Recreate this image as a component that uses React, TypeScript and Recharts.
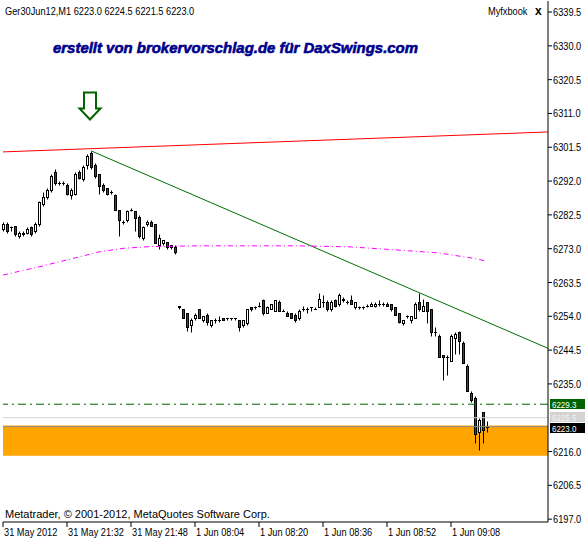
import React from "react";
import {
  Bar,
  ComposedChart,
  Line,
  ReferenceArea,
  ReferenceDot,
  ReferenceLine,
  XAxis,
  YAxis,
} from "recharts";

// Ger30Jun12, M1 candles, 31 May 21:16 .. 1 Jun 09:17
const opens = [
  6278.5, 6280.0, 6279.0, 6279.5, 6276.5, 6277.0, 6277.5, 6279.0, 6278.0, 6280.0,
  6285.5, 6287.5, 6289.5, 6294.5, 6291.5, 6291.5, 6291.0, 6288.0, 6288.5, 6294.5,
  6292.5, 6296.5, 6300.0, 6296.5, 6294.0, 6291.0, 6290.0, 6289.0, 6288.0, 6284.0,
  6280.5, 6281.0, 6284.0, 6283.5, 6282.0, 6276.0, 6280.0, 6280.5, 6280.0, 6274.0,
  6274.5, 6275.0, 6274.0, 6273.5, 6257.0, 6256.0, 6255.0, 6251.5, 6253.5, 6256.0,
  6253.0, 6254.5, 6251.5, 6253.0, 6253.0, 6253.5, 6253.5, 6253.5, 6253.5, 6253.0,
  6251.5, 6252.0, 6256.5, 6256.5, 6257.0, 6258.5, 6255.0, 6256.0, 6255.5, 6258.0,
  6255.5, 6255.0, 6255.0, 6254.5, 6253.5, 6256.0, 6256.0, 6256.5, 6256.0, 6256.5,
  6258.0, 6258.0, 6256.0, 6258.5, 6257.5, 6259.0, 6258.0, 6258.5, 6256.5, 6256.5,
  6256.5, 6257.0, 6257.0, 6257.0, 6257.5, 6257.5, 6257.5, 6257.5, 6256.5, 6255.0,
  6252.0, 6254.0, 6253.0, 6253.5, 6258.0, 6255.5, 6258.0, 6256.0, 6249.5, 6248.5,
  6243.0, 6242.5, 6241.5, 6248.0, 6249.5, 6246.5, 6240.0, 6232.5, 6231.0, 6221.5,
  6227.0, 6223.0,
];
const highs = [
  6280.5, 6280.5, 6279.5, 6279.5, 6278.0, 6278.0, 6279.0, 6279.5, 6280.5, 6286.5,
  6289.0, 6290.0, 6294.0, 6295.5, 6292.0, 6292.0, 6291.5, 6290.0, 6294.5, 6295.0,
  6296.5, 6299.5, 6300.5, 6297.0, 6294.0, 6291.5, 6290.0, 6289.5, 6288.5, 6284.0,
  6281.0, 6284.0, 6284.5, 6283.5, 6282.5, 6279.5, 6281.0, 6281.0, 6280.0, 6277.0,
  6275.5, 6275.0, 6274.0, 6274.0, 6257.0, 6256.0, 6255.0, 6253.5, 6255.0, 6256.0,
  6254.0, 6255.0, 6253.0, 6253.5, 6254.0, 6253.5, 6253.5, 6253.5, 6253.5, 6253.0,
  6253.0, 6256.0, 6256.5, 6257.0, 6258.0, 6259.0, 6257.0, 6257.5, 6258.5, 6258.5,
  6256.0, 6255.5, 6255.0, 6255.0, 6256.0, 6257.0, 6256.5, 6256.5, 6256.5, 6260.5,
  6260.0, 6258.5, 6258.5, 6259.0, 6260.5, 6259.5, 6258.5, 6260.0, 6258.0, 6257.0,
  6257.0, 6257.5, 6258.0, 6258.0, 6258.5, 6258.0, 6258.0, 6257.5, 6256.5, 6255.0,
  6253.0, 6254.5, 6254.0, 6258.0, 6260.5, 6259.0, 6258.0, 6256.0, 6251.0, 6249.0,
  6243.0, 6243.0, 6249.0, 6249.5, 6250.0, 6247.0, 6240.5, 6233.0, 6231.5, 6225.5,
  6227.0, 6224.5,
];
const lows = [
  6278.0, 6277.5, 6278.0, 6276.5, 6276.0, 6276.5, 6277.0, 6276.5, 6277.5, 6279.5,
  6285.0, 6287.0, 6289.0, 6291.0, 6291.0, 6291.0, 6288.0, 6287.0, 6288.0, 6292.5,
  6292.0, 6295.5, 6295.5, 6293.0, 6288.5, 6289.0, 6288.0, 6288.5, 6284.0, 6276.5,
  6280.0, 6280.5, 6283.5, 6278.0, 6276.0, 6275.5, 6279.5, 6279.5, 6274.5, 6273.0,
  6274.0, 6273.0, 6273.0, 6271.5, 6256.0, 6253.5, 6250.0, 6249.5, 6253.0, 6253.5,
  6252.5, 6251.5, 6251.0, 6252.0, 6252.5, 6253.0, 6253.0, 6253.0, 6253.0, 6250.0,
  6251.0, 6251.5, 6255.5, 6256.0, 6256.5, 6254.5, 6255.0, 6256.0, 6255.5, 6255.5,
  6255.5, 6254.0, 6253.5, 6252.5, 6253.0, 6255.5, 6255.0, 6255.5, 6256.0, 6256.5,
  6256.5, 6255.5, 6255.5, 6256.5, 6257.0, 6258.0, 6257.5, 6257.5, 6256.0, 6256.0,
  6256.0, 6256.5, 6257.0, 6256.5, 6257.0, 6257.0, 6257.0, 6255.5, 6254.5, 6252.0,
  6251.5, 6253.5, 6252.0, 6253.5, 6255.5, 6255.5, 6252.0, 6248.5, 6248.5, 6242.5,
  6236.0, 6237.5, 6241.5, 6243.5, 6243.5, 6241.0, 6233.0, 6230.0, 6218.5, 6216.5,
  6218.5, 6221.5,
];
const closes = [
  6280.0, 6278.0, 6279.0, 6277.0, 6277.5, 6277.5, 6278.5, 6277.0, 6280.0, 6286.0,
  6287.5, 6289.5, 6293.5, 6291.5, 6291.5, 6291.5, 6288.5, 6289.5, 6294.0, 6293.0,
  6296.0, 6299.0, 6296.0, 6293.5, 6290.5, 6289.5, 6288.5, 6289.0, 6284.0, 6281.0,
  6280.5, 6283.5, 6284.0, 6281.5, 6276.5, 6279.0, 6280.5, 6279.5, 6274.5, 6276.0,
  6275.5, 6273.5, 6273.5, 6272.0, 6256.5, 6253.5, 6251.0, 6253.0, 6254.5, 6253.5,
  6254.0, 6252.5, 6253.0, 6253.0, 6253.0, 6253.0, 6253.5, 6253.5, 6253.5, 6251.0,
  6253.0, 6256.0, 6256.0, 6256.5, 6257.0, 6255.0, 6256.5, 6257.5, 6258.5, 6255.5,
  6255.5, 6254.0, 6253.5, 6253.0, 6255.5, 6256.0, 6256.0, 6256.5, 6256.0, 6259.0,
  6258.0, 6256.0, 6258.0, 6257.0, 6260.0, 6258.5, 6258.0, 6257.5, 6258.0, 6256.5,
  6256.5, 6257.0, 6257.5, 6257.5, 6257.5, 6257.5, 6257.0, 6256.0, 6254.5, 6252.5,
  6253.0, 6254.0, 6254.0, 6257.5, 6256.0, 6257.0, 6255.5, 6249.5, 6249.5, 6242.5,
  6242.5, 6242.5, 6248.5, 6249.0, 6247.0, 6241.0, 6233.0, 6230.5, 6221.0, 6225.0,
  6222.0, 6223.0,
];

// moving average (dash-dot magenta), read at a few bars
const maBars = [0, 9, 18, 24, 30, 37, 49, 74, 87, 99, 109, 117, 121];
const maValues = [6265.6, 6267.9, 6270.4, 6272.1, 6273.1, 6273.6, 6273.8, 6273.8, 6273.5, 6272.6, 6271.8, 6270.4, 6269.5];

// drawn objects
const upperLine = [
  { x: 0, y: 6300.2 },
  { x: 136.25, y: 6305.8 },
];
const downTrend = [
  { x: 22, y: 6300.5 },
  { x: 136.25, y: 6245.0 },
];
const levelGreen = 6229.3;
const levelGray = 6225.5;
const bidPrice = 6223.0;
const zoneLow = 6214.8;
const zoneHigh = 6223.3;
const arrowBar = 22;
const arrowPrice = 6313.1;

const priceTicks = [
  6197.0, 6206.5, 6216.0, 6235.0, 6244.5, 6254.0, 6263.5, 6273.0, 6282.5, 6292.0,
  6301.5, 6311.0, 6320.5, 6330.0, 6339.5,
];
const timeTicks = [0, 16, 32, 48, 64, 80, 96, 112];
const timeLabels = [
  "31 May 2012",
  "31 May 21:32",
  "31 May 21:48",
  "1 Jun 08:04",
  "1 Jun 08:20",
  "1 Jun 08:36",
  "1 Jun 08:52",
  "1 Jun 09:08",
];

const SANS = "'Liberation Sans', Arial, sans-serif";
const SQUEEZE = 0.84; // terminal font is narrower than Arial

const candles = opens.map((o, i) => ({
  i,
  o,
  h: highs[i],
  l: lows[i],
  c: closes[i],
  range: [lows[i], highs[i]],
}));

const maData = maBars.map((i, k) => ({ i, ma: maValues[k] }));

function NarrowText({ x, y, size = 11, fill = "#000", dy = 0, children }: any) {
  return (
    <text
      transform={`translate(${x},${y}) scale(${SQUEEZE},1)`}
      x={0}
      y={0}
      dy={dy}
      fontSize={size}
      fontFamily={SANS}
      fill={fill}
      textAnchor="start"
    >
      {children}
    </text>
  );
}

function Candle(props: any) {
  const { x, y, width, height, payload } = props;
  if (!payload) return null;
  const { o, h, l, c } = payload;
  const top = Math.min(y, y + height);
  const bottom = Math.max(y, y + height);
  const toY = (v: number) => top + ((h - v) / (h - l)) * (bottom - top);
  const cx = Math.round(x + width / 2) + 0.5;
  const yh = Math.round(top) + 0.5;
  const yl = Math.round(bottom) + 0.5;
  const bTop = Math.round(toY(Math.max(o, c))) + 0.5;
  const bBot = Math.round(toY(Math.min(o, c))) + 0.5;
  const bull = c >= o;
  return (
    <g>
      <line x1={cx} x2={cx} y1={yh} y2={yl} stroke="#000" strokeWidth={1} />
      {bBot - bTop < 1 ? (
        <line x1={cx - 1.5} x2={cx + 1.5} y1={bTop} y2={bTop} stroke="#000" strokeWidth={1} />
      ) : (
        <rect
          x={cx - 1}
          y={bTop}
          width={2}
          height={bBot - bTop}
          fill={bull ? "#ffffff" : "#e00000"}
          stroke="#000"
          strokeWidth={1}
        />
      )}
    </g>
  );
}

function DownArrow(props: any) {
  const { cx, cy } = props;
  const ax = cx - 1;
  const d = `M${ax - 6} ${cy - 13.5} L${ax + 6} ${cy - 13.5} L${ax + 6} ${cy + 2.5} L${ax + 10.5} ${cy + 2.5} L${ax} ${cy + 13.5} L${ax - 10.5} ${cy + 2.5} L${ax - 6} ${cy + 2.5} Z`;
  return <path d={d} fill="#ffffff" stroke="#006400" strokeWidth={2} />;
}

function TimeTick(props: any) {
  const { x, y, payload } = props;
  const k = timeTicks.indexOf(payload.value);
  return (
    <NarrowText x={x + 1} y={y} dy={7.5}>
      {k >= 0 ? timeLabels[k] : ""}
    </NarrowText>
  );
}

function PriceTick(props: any) {
  const { x, y, payload } = props;
  return (
    <NarrowText x={x} y={y} dy={4}>
      {Number(payload.value).toFixed(1)}
    </NarrowText>
  );
}

// coloured price box on the right axis; shift nudges the box so stacked tags don't collide
function priceTag(value: number, bg: string, fg: string, shift = 0) {
  return (props: any) => {
    const vb = props.viewBox || {};
    const ly = Math.round(vb.y ?? 0) + shift;
    const left = (vb.x ?? 0) + (vb.width ?? 0) + 2;
    return (
      <g>
        <rect x={left} y={ly - 5} width={35} height={10} fill={bg} />
        <NarrowText x={left + 2} y={ly} dy={3.5} size={9.5} fill={fg}>
          {value.toFixed(1)}
        </NarrowText>
      </g>
    );
  };
}

export default function App() {
  return (
    <div style={{ position: "absolute", left: 0, top: 0, width: 586, height: 539, background: "#fff" }}>
      <ComposedChart
        width={586}
        height={539}
        data={candles}
        margin={{ top: 1, right: 0, bottom: 0, left: 3 }}
      >
        <XAxis
          xAxisId="top"
          orientation="top"
          type="number"
          domain={[0, 1]}
          height={0}
          tick={false}
          tickLine={false}
          axisLine={{ stroke: "#000" }}
        />
        <YAxis
          yAxisId="left"
          orientation="left"
          width={0}
          tick={false}
          tickLine={false}
          axisLine={{ stroke: "#000" }}
        />
        <XAxis
          dataKey="i"
          type="number"
          domain={[0, 136.25]}
          ticks={timeTicks}
          height={17}
          tickSize={5}
          tickMargin={1}
          tick={<TimeTick />}
          tickLine={{ stroke: "#000" }}
          axisLine={{ stroke: "#000" }}
          interval={0}
        />
        <YAxis
          orientation="right"
          type="number"
          domain={[6196.2, 6342.6]}
          ticks={priceTicks}
          width={38}
          tickSize={4}
          tickMargin={1}
          interval={0}
          tick={<PriceTick />}
          tickLine={{ stroke: "#000" }}
          axisLine={{ stroke: "#000" }}
          allowDataOverflow
        />
        <ReferenceArea y1={zoneLow} y2={zoneHigh} fill="#ffa500" fillOpacity={1} stroke="none" />
        <ReferenceLine y={levelGray} stroke="#d3d3d3" label={priceTag(levelGray, "#d3d3d3", "#f4f4f4", -1)} />
        <ReferenceLine y={bidPrice} stroke="#8c8c8c" label={priceTag(bidPrice, "#000000", "#ffffff", 1)} />
        <ReferenceLine
          y={levelGreen}
          stroke="#006400"
          strokeDasharray="8 4 2 4"
          label={priceTag(levelGreen, "#006400", "#ffffff")}
        />
        <ReferenceLine segment={upperLine} stroke="#ff0000" strokeWidth={1} />
        <ReferenceLine segment={downTrend} stroke="#007000" strokeWidth={1} />
        <Line
          data={maData}
          dataKey="ma"
          stroke="#ff00ff"
          strokeWidth={1}
          strokeDasharray="5 3 1 3"
          dot={false}
          activeDot={false}
          isAnimationActive={false}
        />
        <Bar dataKey="range" barSize={3} shape={<Candle />} isAnimationActive={false} />
        <ReferenceDot x={arrowBar} y={arrowPrice} r={10} shape={<DownArrow />} />
      </ComposedChart>
      <svg
        width={586}
        height={539}
        style={{ position: "absolute", left: 0, top: 0, pointerEvents: "none" }}
      >
        <NarrowText x={5} y={15}>
          Ger30Jun12,M1  6223.0 6224.5 6221.5 6223.0
        </NarrowText>
        <NarrowText x={488} y={15}>
          Myfxbook
        </NarrowText>
        <text x={535} y={15} fontSize={12} fontWeight="bold" fontFamily={SANS} fill="#000">
          x
        </text>
        <text
          x={53}
          y={53}
          fontSize={15}
          fontWeight="bold"
          fontStyle="italic"
          fontFamily={SANS}
          fill="#00008b"
          stroke="#00008b"
          strokeWidth={0.6}
          textLength={365}
          lengthAdjust="spacingAndGlyphs"
        >
          erstellt von brokervorschlag.de für DaxSwings.com
        </text>
        <text x={5} y={518} fontSize={11} fontFamily={SANS} fill="#000">
          Metatrader, © 2001-2012, MetaQuotes Software Corp.
        </text>
      </svg>
    </div>
  );
}
